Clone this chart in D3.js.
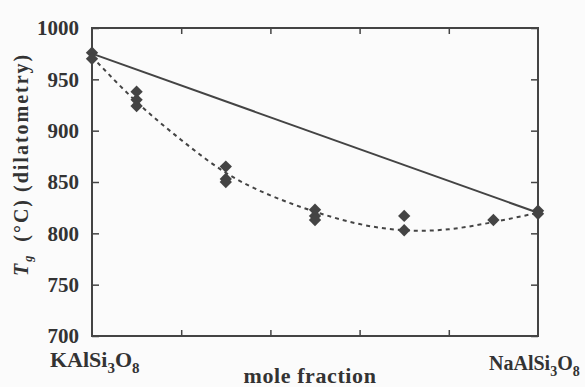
<!DOCTYPE html>
<html>
<head>
<meta charset="utf-8">
<script src="https://cdn.jsdelivr.net/npm/d3@7"></script>
<style>
  body { margin: 0; background: #fbfbfb; }
  svg { display: block; }
  svg text { font-family: "Liberation Serif", "Times New Roman", Tinos, "DejaVu Serif", serif; font-weight: bold; fill: #333; }
</style>
</head>
<body>
<svg width="585" height="387"></svg>
<script>
// measured points (x = mole fraction NaAlSi3O8)
var compX = [0, 0, 0.1, 0.1, 0.1, 0.3, 0.3, 0.3, 0.5, 0.5, 0.5, 0.7, 0.7, 0.9, 1.0, 1.0];
var tgVals = [976, 970, 938, 930, 924, 865, 853, 850, 823, 817, 813, 817, 803, 813, 822, 819];

// straight line between end members
var lineX = [0, 1];
var lineT = [975, 820];

// dashed fit curve
var fitX = [0, 0.1, 0.2, 0.3, 0.4, 0.5, 0.6, 0.7, 0.8, 0.9, 1.0];
var fitT = [972, 928, 891, 859, 837, 821, 809, 803, 804, 811, 820];

var yTicks = [700, 750, 800, 850, 900, 950, 1000];
var xTicks = [0, 0.2, 0.4, 0.6, 0.8, 1.0];

var svg = d3.select("svg");
var ink = "#444";

var x = d3.scaleLinear().domain([0, 1]).range([92, 538]);
var y = d3.scaleLinear().domain([700, 1000]).range([336, 28]);

// axes, ticks inward on all sides
svg.append("g")
    .attr("transform", "translate(0,336)")
    .call(d3.axisTop(x).tickValues(xTicks.slice(1, -1)).tickSize(6).tickFormat(""));
svg.append("g")
    .attr("transform", "translate(0,28)")
    .call(d3.axisBottom(x).tickValues(xTicks.slice(1, -1)).tickSize(6).tickFormat(""));
svg.append("g")
    .attr("transform", "translate(92,0)")
    .call(d3.axisRight(y).tickValues(yTicks).tickSize(7).tickFormat(""));
svg.append("g")
    .attr("transform", "translate(538,0)")
    .call(d3.axisLeft(y).tickValues(yTicks).tickSize(7).tickFormat(""));

svg.selectAll(".domain").remove();
svg.selectAll(".tick line").attr("stroke", ink).attr("stroke-width", 1.5);

svg.append("rect")
    .attr("x", x(0)).attr("y", y(1000))
    .attr("width", x(1) - x(0)).attr("height", y(700) - y(1000))
    .attr("fill", "none").attr("stroke", ink).attr("stroke-width", 2);

// y tick labels
svg.append("g").selectAll("text")
  .data(yTicks)
  .enter().append("text")
    .attr("x", 79)
    .attr("y", function(d) { return y(d); })
    .attr("dy", "0.35em")
    .attr("text-anchor", "end")
    .style("font-size", "21px")
    .text(function(d) { return d; });

// y axis title, reads bottom to top
var yt = svg.append("text")
    .attr("transform", "translate(28,276) rotate(-90)")
    .attr("text-anchor", "start")
    .style("font-size", "20px")
    .style("letter-spacing", "2px");
yt.append("tspan").style("font-style", "italic").text("T");
yt.append("tspan").style("font-style", "italic").style("font-size", "12px").attr("dy", 4).text("g");
yt.append("tspan").attr("dy", -4).attr("dx", 12).text("(\u00b0C)");
yt.append("tspan").attr("dx", 6).text("(dilatometry)");

// end member labels
var k = svg.append("text").attr("x", 50).attr("y", 367).style("font-size", "22px");
k.append("tspan").text("KAlSi");
k.append("tspan").attr("dy", 6).style("font-size", "15px").text("3");
k.append("tspan").attr("dy", -6).text("O");
k.append("tspan").attr("dy", 6).style("font-size", "15px").text("8");

var n = svg.append("text").attr("x", 489).attr("y", 370).style("font-size", "20px");
n.append("tspan").text("NaAlSi");
n.append("tspan").attr("dy", 6).style("font-size", "14px").text("3");
n.append("tspan").attr("dy", -6).text("O");
n.append("tspan").attr("dy", 6).style("font-size", "14px").text("8");

svg.append("text")
    .attr("x", 310).attr("y", 383)
    .attr("text-anchor", "middle")
    .style("font-size", "22px")
    .style("letter-spacing", "0.6px")
    .text("mole fraction");

// solid line
svg.append("path")
    .datum(lineX.map(function(d, i) { return [d, lineT[i]]; }))
    .attr("d", d3.line().x(function(d) { return x(d[0]); }).y(function(d) { return y(d[1]); }))
    .attr("fill", "none").attr("stroke", ink).attr("stroke-width", 2);

// dashed fit
svg.append("path")
    .datum(fitX.map(function(d, i) { return [d, fitT[i]]; }))
    .attr("d", d3.line().curve(d3.curveNatural).x(function(d) { return x(d[0]); }).y(function(d) { return y(d[1]); }))
    .attr("fill", "none").attr("stroke", ink).attr("stroke-width", 2)
    .attr("stroke-dasharray", "4,4");

// diamonds
var diamond = d3.symbol().type(d3.symbolSquare).size(76);
svg.append("g").selectAll("path")
  .data(compX.map(function(d, i) { return [d, tgVals[i]]; }))
  .enter().append("path")
    .attr("d", diamond)
    .attr("transform", function(d) { return "translate(" + x(d[0]) + "," + y(d[1]) + ") rotate(45)"; })
    .attr("fill", ink);
</script>
</body>
</html>
